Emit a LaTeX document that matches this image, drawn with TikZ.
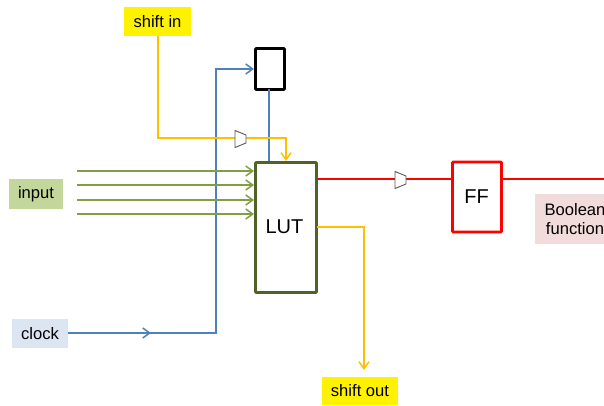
\documentclass[tikz,border=0pt]{standalone}
\usepackage{fontspec}
\setmainfont{Liberation Sans}
\usetikzlibrary{arrows.meta,positioning}
\definecolor{wblue}{HTML}{4F81BD}
\definecolor{wgreen}{HTML}{7F9F42}
\definecolor{lutgreen}{HTML}{4F6228}
\definecolor{wyellow}{HTML}{FFC000}
\definecolor{inputfill}{HTML}{C3D69B}
\definecolor{clockfill}{HTML}{DCE6F2}
\definecolor{boolfill}{HTML}{F2DCDB}
\definecolor{muxgrey}{HTML}{595959}
\tikzset{
  x=1pt,y=-1pt,
  tip/.style={-{Straight Barb[length=7pt,width=10pt,line width=1.5pt]}},
  label box/.style={anchor=center,inner sep=0pt,outer sep=0pt,font=\fontsize{16.6}{18}\selectfont},
  block/.style={draw,fill=white,rounded corners=0.8pt,inner sep=0pt,outer sep=0pt,anchor=north west},
  blueline/.style={draw=wblue,line width=1.7pt},
  greenline/.style={draw=wgreen,line width=1.7pt,tip},
  yellowline/.style={draw=wyellow,line width=1.7pt},
  redline/.style={draw=red,line width=1.7pt},
  mux/.style={draw=muxgrey,fill=white,line width=0.9pt,line join=round},
}
\begin{document}
\begin{tikzpicture}
\useasboundingbox (0,0) rectangle (604,405);
\fill[white] (0,0) rectangle (604,405);
% label boxes
\node[label box,fill=yellow,minimum width=67pt,minimum height=29pt] (shiftin) at (157.5,21.5) {shift in};
\node[label box,fill=inputfill,minimum width=54pt,minimum height=30pt] (input) at (36,194) {input};
\node[label box,fill=clockfill,minimum width=56pt,minimum height=29pt] (clock) at (40,333.5) {clock};
\node[label box,fill=yellow,minimum width=76pt,minimum height=28pt] (shiftout) at (360,391) {shift out};
\node[label box,fill=boolfill,minimum width=80pt,minimum height=50pt,align=center] (bool) at (575,219) {Boolean\\[1pt]function};
% blocks
\node[block,draw=black,line width=2.8pt,minimum width=29pt,minimum height=41pt] (reg) at (255.5,48.5) {};
\coordinate (regtap) at (269,89);
\coordinate (luttap) at (269,162);
\coordinate (clkcorner) at (216,333);
\coordinate (clktop) at (216,69);
\coordinate (regin) at (254,69);
% blue
\draw[blueline] (regtap) -- (luttap);
\draw[blueline,tip] (clock.east |- clkcorner) -- (clkcorner) -- (clktop) -- (regin);
\coordinate (clkmid) at (151,333);
\draw[blueline,tip] (clock.east |- clkcorner) -- (clkmid);
% green
\foreach \n/\y in {a/171,b/185,c/200,d/214}{
  \coordinate (g\n s) at (77,\y);
  \coordinate (g\n e) at (254,\y);
  \draw[greenline] (g\n s) -- (g\n e);
}
% yellow in
\coordinate (yc1) at (158,138);
\coordinate (yc2) at (286,138);
\coordinate (yc3) at (286,161);
\draw[yellowline,tip] (shiftin.south -| yc1) -- (yc1) -- (yc2) -- (yc3);
\draw[mux] (235,130.5) -- (246,135) -- (246,143) -- (235,147.5) -- cycle;
% LUT and FF
\node[block,draw=lutgreen,line width=2.8pt,minimum width=61pt,minimum height=130pt] (lut) at (255.5,162.5) {};
\node[font=\fontsize{20}{22}\selectfont,inner sep=0pt] (luttext) at (284.5,227) {LUT};
\node[block,draw=red,line width=2.8pt,minimum width=49pt,minimum height=70pt] (ff) at (452.5,162) {};
\node[font=\fontsize{20}{22}\selectfont,inner sep=0pt] (fftext) at (476.5,196.5) {FF};
% red
\coordinate (rs) at (317,179);
\coordinate (re) at (452,179);
\coordinate (rs2) at (501,179);
\coordinate (re2) at (604,179);
\draw[redline] (rs) -- (re);
\draw[redline] (rs2) -- (re2);
\draw[mux] (395,171.5) -- (406,176) -- (406,184) -- (395,188.5) -- cycle;
% shift out
\coordinate (ys) at (317,227);
\coordinate (yc) at (364,227);
\coordinate (ye) at (364,370);
\draw[yellowline,tip] (ys) -- (yc) -- (ye);
\end{tikzpicture}
\end{document}
